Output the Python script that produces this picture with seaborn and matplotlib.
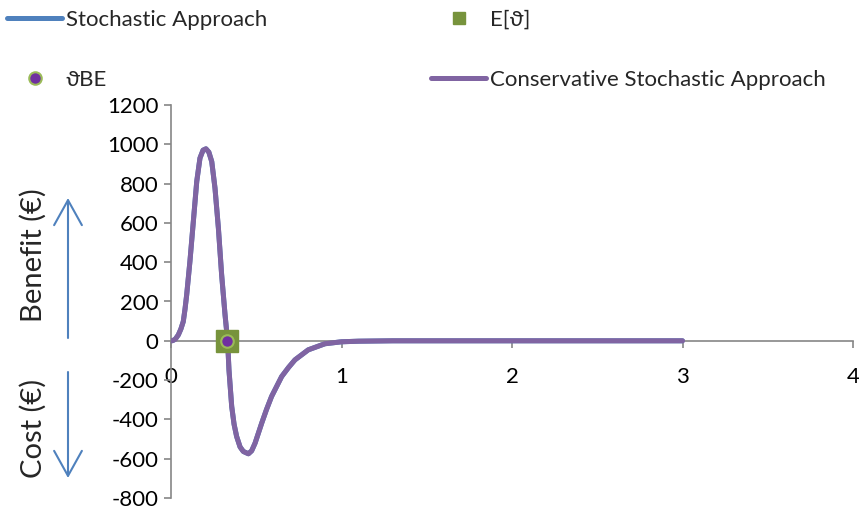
import matplotlib
matplotlib.use("Agg")
import matplotlib.pyplot as plt
import seaborn as sns
import numpy as np
import pandas as pd
from matplotlib.lines import Line2D

# curve values (benefit/cost in EUR vs theta)
theta = [0, 0.01, 0.025, 0.043, 0.058, 0.072, 0.082, 0.092, 0.111, 0.131,
         0.151, 0.170, 0.188, 0.205, 0.222, 0.239, 0.258, 0.278, 0.297,
         0.317, 0.332, 0.340, 0.356, 0.370, 0.385, 0.405, 0.424, 0.454,
         0.473, 0.493, 0.532, 0.560, 0.590, 0.649, 0.690, 0.727, 0.805,
         0.903, 1.0, 1.1, 1.3, 2.0, 3.0]
stochastic = [0, 1, 8, 30, 60, 98, 160, 234, 404, 607,
              811, 930, 970, 977, 960, 912, 777, 573, 336,
              132, 0, -148, -334, -425, -487, -540, -563, -575,
              -560, -521, -419, -350, -283, -182, -135, -97, -46,
              -15, -5, -2, 0, 0, 0]
conservative = list(stochastic)

expected_theta = [0.33]
expected_val = [0]
theta_be = [0.33]
theta_be_val = [0]

blue = "#4F81BD"
purple = "#8064A2"
green = "#77933C"

sns.set_style("white")
plt.rcParams['font.family'] = ['Lato', 'DejaVu Sans']
plt.rcParams['axes.unicode_minus'] = False
fs = 16

fig = plt.figure(figsize=(8.59, 5.11), dpi=100)
ax = fig.add_axes([171/859, 1 - 498/511, (853 - 171)/859, (498 - 105)/511])

df = pd.DataFrame({"theta": theta, "stoch": stochastic, "cons": conservative})
sns.lineplot(data=df, x="theta", y="stoch", ax=ax, color=blue, lw=3.6, zorder=2)
sns.lineplot(data=df, x="theta", y="cons", ax=ax, color=purple, lw=3.6, zorder=3)
ax.plot(expected_theta, expected_val, ls="none", marker="s", ms=15.5,
        color=green, zorder=4, clip_on=False)
ax.plot(theta_be, theta_be_val, ls="none", marker="o", ms=9,
        markerfacecolor="#7030A0", markeredgecolor="#9BBB59", mew=1.5,
        zorder=5, clip_on=False)

ax.set_xlim(0, 4)
ax.set_ylim(-800, 1200)
ax.set_xticks([0, 1, 2, 3, 4])
ax.set_yticks(range(-800, 1201, 200))
ax.set_xlabel("")
ax.set_ylabel("")
for s in ["top", "right"]:
    ax.spines[s].set_visible(False)
ax.spines["bottom"].set_position(("data", 0))
for s in ["left", "bottom"]:
    ax.spines[s].set_color("#868686")
    ax.spines[s].set_linewidth(1.2)
ax.tick_params(axis="both", length=5, width=1.2, color="#868686",
               labelsize=fs, labelcolor="black", direction="out")
ax.tick_params(axis="x", pad=14)
ax.tick_params(axis="y", pad=4)
ax.tick_params(left=True, bottom=True)

# legend (2 columns, filled column-wise)
h_stoch = Line2D([], [], color=blue, lw=3.6)
h_be = Line2D([], [], ls="none", marker="o", ms=9, markerfacecolor="#7030A0",
              markeredgecolor="#9BBB59", mew=1.5)
h_exp = Line2D([], [], ls="none", marker="s", ms=9, color=green)
h_cons = Line2D([], [], color=purple, lw=3.6)
px = fs * 100 / 72
fig.legend([h_stoch, h_be, h_exp, h_cons],
           ["Stochastic Approach", "ϑBE", "E[ϑ]", "Conservative Stochastic Approach"],
           ncol=2, loc="upper left", bbox_to_anchor=(7/859, 1 - 10/511),
           frameon=False, fontsize=fs, borderpad=0, borderaxespad=0,
           handlelength=55/px, handletextpad=4/px, columnspacing=164/px,
           labelspacing=(62 - px)/px)

# benefit / cost annotations with arrows
fig.text(33/859, 1 - 255/511, "Benefit (€)", rotation=90, ha="center",
         va="center", fontsize=21)
fig.text(33/859, 1 - 428/511, "Cost (€)", rotation=90, ha="center",
         va="center", fontsize=21)
arrow = dict(arrowstyle="->,head_length=0.9,head_width=0.5", color=blue,
             lw=1.5, mutation_scale=20, shrinkA=0, shrinkB=0)
ax.annotate("", xy=(68, 511 - 198), xytext=(68, 511 - 338),
            xycoords="figure pixels", textcoords="figure pixels",
            arrowprops=arrow, annotation_clip=False)
ax.annotate("", xy=(68, 511 - 478), xytext=(68, 511 - 372),
            xycoords="figure pixels", textcoords="figure pixels",
            arrowprops=arrow, annotation_clip=False)

fig.savefig("out.png", dpi=100)
